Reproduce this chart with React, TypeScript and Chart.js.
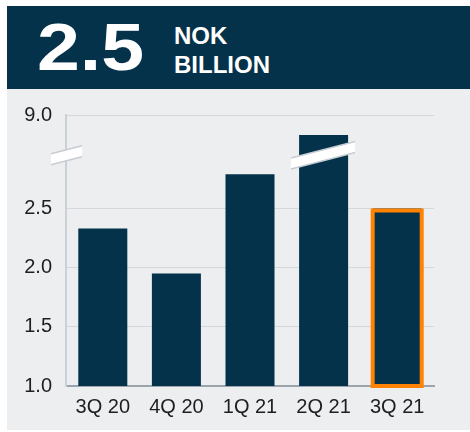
import { useEffect, useRef } from 'react';
import { Chart, registerables } from 'chart.js';

Chart.register(...registerables);

// ---- data ----
const categories = ['3Q 20', '4Q 20', '1Q 21', '2Q 21', '3Q 21'];
// values on the (broken) display axis; everything above the break is compressed
const values = [2.33, 1.95, 2.79, 3.12, 2.5];
const axisTicks = [1.0, 1.5, 2.0, 2.5, 3.29];
const axisTickLabels = ['1.0', '1.5', '2.0', '2.5', '9.0'];
const highlightIndex = 4;
const brokenBarIndex = 3;
const breakValue = 2.95;
const headlineValue = '2.5';
const headlineUnit = ['NOK', 'BILLION'];

const NAVY = '#03324A';
const PANEL = '#EDEEF0';
const ORANGE = '#FF8200';
const FONT = '"Liberation Sans", Arial, Helvetica, sans-serif';

function drawBand(ctx: CanvasRenderingContext2D, x0: number, x1: number, cy: number) {
  const slope = 0.26;
  const cx = (x0 + x1) / 2;
  const yAt = (x: number) => cy - slope * (x - cx);
  const h = 5.5;
  ctx.save();
  ctx.beginPath();
  ctx.moveTo(x0, yAt(x0) - h);
  ctx.lineTo(x1, yAt(x1) - h);
  ctx.lineTo(x1, yAt(x1) + h);
  ctx.lineTo(x0, yAt(x0) + h);
  ctx.closePath();
  ctx.fillStyle = '#FFFFFF';
  ctx.fill();
  ctx.strokeStyle = '#C6CCD2';
  ctx.lineWidth = 1.5;
  ctx.beginPath();
  ctx.moveTo(x0, yAt(x0) - h);
  ctx.lineTo(x1, yAt(x1) - h);
  ctx.moveTo(x0, yAt(x0) + h);
  ctx.lineTo(x1, yAt(x1) + h);
  ctx.stroke();
  ctx.restore();
}

const decorPlugin = {
  id: 'decor',
  afterDatasetsDraw(chart: any) {
    const ctx = chart.ctx as CanvasRenderingContext2D;
    const meta = chart.getDatasetMeta(0);
    const bar = meta.data[highlightIndex] as any;
    const x = bar.x as number;
    const y = bar.y as number;
    const width = bar.width as number;
    const base = chart.scales.y.getPixelForValue(chart.scales.y.min) as number;
    ctx.save();
    ctx.strokeStyle = ORANGE;
    ctx.lineWidth = 4;
    ctx.strokeRect(x - width / 2, y + 2, width, base - y - 2);
    ctx.restore();
  },
  afterDraw(chart: any) {
    const ctx = chart.ctx as CanvasRenderingContext2D;
    const yPix = chart.scales.y.getPixelForValue(breakValue);
    const left = chart.chartArea.left;
    drawBand(ctx, left - 15, left + 16, yPix);
    const meta = chart.getDatasetMeta(0);
    const bar = meta.data[brokenBarIndex] as any;
    const x = bar.x as number;
    const width = bar.width as number;
    drawBand(ctx, x - width / 2 - 8, x + width / 2 + 7, yPix);
  },
};

function BarChart() {
  const ref = useRef<HTMLCanvasElement | null>(null);
  useEffect(() => {
    if (!ref.current) return;
    const chart = new Chart(ref.current, {
      type: 'bar',
      data: {
        labels: categories,
        datasets: [
          {
            data: values,
            backgroundColor: NAVY,
            borderWidth: 0,
            barPercentage: 0.666,
            categoryPercentage: 1,
          },
        ],
      },
      options: {
        animation: false,
        responsive: false,
        maintainAspectRatio: false,
        layout: { padding: { top: 26, right: 36, left: 0, bottom: 0 } },
        plugins: { legend: { display: false }, tooltip: { enabled: false } },
        scales: {
          x: {
            grid: { display: true, drawOnChartArea: false, drawTicks: false },
            border: { display: true, color: '#9AA5AD', width: 2 },
            ticks: {
              padding: 9,
              color: '#1E1E1E',
              font: { family: FONT, size: 20 },
              maxRotation: 0,
            },
            afterFit: (scale: any) => {
              scale.height = 46;
            },
          },
          y: {
            min: 1,
            max: axisTicks[axisTicks.length - 1],
            afterBuildTicks: (scale: any) => {
              scale.ticks = axisTicks.map((v) => ({ value: v }));
            },
            afterFit: (scale: any) => {
              scale.width = 66;
            },
            grid: { color: '#D4D7DB', lineWidth: 1, drawTicks: false },
            border: { display: true, color: '#C9D1D7', width: 2 },
            ticks: {
              padding: 14,
              color: '#1E1E1E',
              font: { family: FONT, size: 20 },
              callback: (_v: any, i: number) => axisTickLabels[i],
            },
          },
        },
      },
      plugins: [decorPlugin],
    });
    return () => chart.destroy();
  }, []);
  return (
    <canvas
      ref={ref}
      width={470}
      height={343}
      style={{ position: 'absolute', left: 0, top: 89, width: 470, height: 343 }}
    />
  );
}

export default function App() {
  return (
    <div
      style={{
        position: 'fixed',
        left: 0,
        top: 0,
        width: 470,
        height: 432,
        background: '#FFFFFF',
        overflow: 'hidden',
        fontFamily: FONT,
      }}
    >
      <div
        style={{ position: 'absolute', left: 7, top: 6, width: 463, height: 83, background: NAVY }}
      />
      <div
        style={{ position: 'absolute', left: 7, top: 89, width: 463, height: 341, background: PANEL }}
      />
      <div
        style={{
          position: 'absolute',
          left: 37,
          top: 13,
          fontSize: 67,
          lineHeight: '67px',
          fontWeight: 700,
          color: '#FFFFFF',
          transform: 'scaleX(1.15)',
          transformOrigin: 'left top',
          whiteSpace: 'nowrap',
        }}
      >
        {headlineValue}
      </div>
      <div
        style={{
          position: 'absolute',
          left: 174,
          top: 21,
          fontSize: 24,
          lineHeight: '29px',
          fontWeight: 700,
          color: '#FFFFFF',
          whiteSpace: 'nowrap',
        }}
      >
        <div>{headlineUnit[0]}</div>
        <div>{headlineUnit[1]}</div>
      </div>
      <BarChart />
    </div>
  );
}
